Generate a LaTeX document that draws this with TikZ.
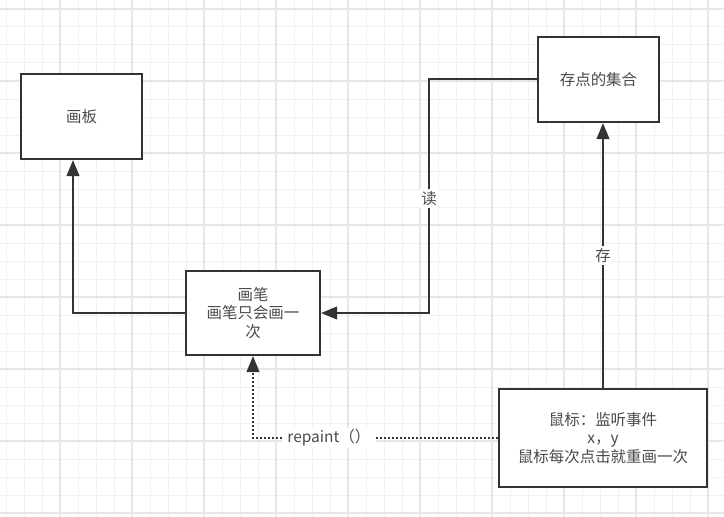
\documentclass[tikz,border=0pt]{standalone}
\usepackage{fontspec}
\setmainfont{Noto Sans CJK SC}
\usetikzlibrary{arrows.meta}

\definecolor{gridminor}{HTML}{F1F1F1}
\definecolor{gridmajor}{HTML}{E6E6E6}
\definecolor{boxline}{HTML}{333333}
\definecolor{txtgray}{HTML}{4A4A4A}

\begin{document}
\begin{tikzpicture}[x=0.75pt,y=-0.75pt,
  box/.style={draw=boxline,line width=1.6pt,fill=white,text=txtgray,align=center,
    inner sep=0pt,font=\fontsize{11.6}{13.9}\selectfont},
  conn/.style={draw=boxline,line width=1.5pt,-{Triangle[length=12pt,width=9.5pt]}},
  dotline/.style={dash pattern=on 1.5pt off 1.5pt},
  lbl/.style={fill=white,text=txtgray,inner sep=1.5pt,font=\fontsize{11.6}{13.9}\selectfont}]
\useasboundingbox (0,0) rectangle (724,517);
% Grid
\foreach \x in {6,24,...,724} \draw[gridminor,line width=0.75pt] (\x,0) -- (\x,517);
\foreach \y in {9,27,...,517} \draw[gridminor,line width=0.75pt] (0,\y) -- (724,\y);
\foreach \x in {60,132,...,708} \draw[gridmajor,line width=0.9pt] (\x,0) -- (\x,517);
\foreach \y in {9,81,...,513} \draw[gridmajor,line width=0.9pt] (0,\y) -- (724,\y);
% Boxes
\node[box,minimum width=90.75pt,minimum height=63.75pt] (huaban) at (81.5,116.5) {画板};
\node[box,minimum width=90.75pt,minimum height=63.75pt] (jihe) at (598.5,79.5) {存点的集合};
\node[box,minimum width=100.5pt,minimum height=63pt] (huabi) at (253,313) {画笔\\画笔只会画一\\次};
\node[box,minimum width=156pt,minimum height=73.5pt] (shubiao) at (603,438) {鼠标：监听事件\\x，y\\鼠标每次点击就重画一次};
% Connectors
\coordinate (turnA) at (73,313);
\coordinate (turnB) at (429,79.5);
\draw[conn] (huabi.west) -- (turnA) -- (turnA |- huaban.south);
\draw[conn] (jihe.west) -- (turnB) -- node[lbl,pos=0.51] (du) {读} (turnB |- huabi.east) -- (huabi.east);
\draw[conn] (shubiao.north) -- node[lbl] (cun) {存} (shubiao.north |- jihe.south);
\draw[conn,dotline] (shubiao.west) -- node[lbl,pos=0.69,inner xsep=4pt] (rp) {repaint（）} (huabi.south |- shubiao.west) -- (huabi.south);
\end{tikzpicture}
\end{document}
